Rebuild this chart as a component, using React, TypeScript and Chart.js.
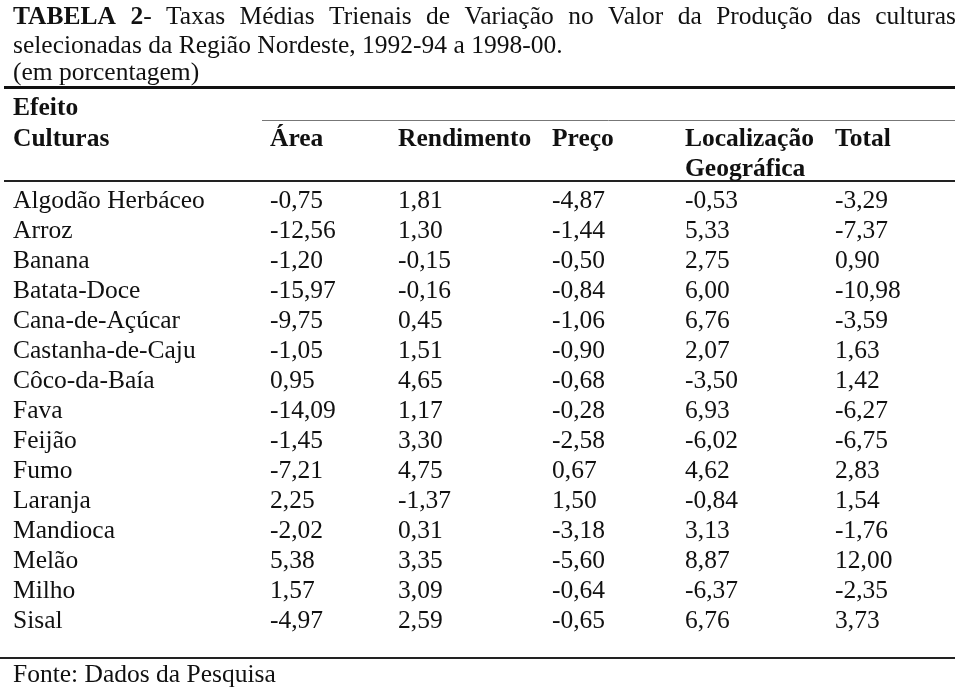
import React, { useEffect, useRef } from "react";
import { Chart, registerables } from "chart.js";

Chart.register(...registerables);

// ---------- text ----------
const TITLE_LINE1 = "TABELA 2- Taxas Médias Trienais de Variação no Valor da Produção das culturas";
const TITLE_LINE2 = "selecionadas da Região Nordeste, 1992-94 a 1998-00.";
const TITLE_LINE3 = "(em porcentagem)";
const GROUP_LABEL = "Efeito";
const ROW_HEADER = "Culturas";
const COLUMNS = ["Área", "Rendimento", "Preço", "Localização", "Total"];
const COLUMN_SUB = ["", "", "", "Geográfica", ""];
const SOURCE = "Fonte: Dados da Pesquisa";

// ---------- data ----------
const CROPS = [
  "Algodão Herbáceo",
  "Arroz",
  "Banana",
  "Batata-Doce",
  "Cana-de-Açúcar",
  "Castanha-de-Caju",
  "Côco-da-Baía",
  "Fava",
  "Feijão",
  "Fumo",
  "Laranja",
  "Mandioca",
  "Melão",
  "Milho",
  "Sisal",
];
const AREA = [-0.75, -12.56, -1.2, -15.97, -9.75, -1.05, 0.95, -14.09, -1.45, -7.21, 2.25, -2.02, 5.38, 1.57, -4.97];
const RENDIMENTO = [1.81, 1.3, -0.15, -0.16, 0.45, 1.51, 4.65, 1.17, 3.3, 4.75, -1.37, 0.31, 3.35, 3.09, 2.59];
const PRECO = [-4.87, -1.44, -0.5, -0.84, -1.06, -0.9, -0.68, -0.28, -2.58, 0.67, 1.5, -3.18, -5.6, -0.64, -0.65];
const LOCALIZACAO = [-0.53, 5.33, 2.75, 6.0, 6.76, 2.07, -3.5, 6.93, -6.02, 4.62, -0.84, 3.13, 8.87, -6.37, 6.76];
const TOTAL = [-3.29, -7.37, 0.9, -10.98, -3.59, 1.63, 1.42, -6.27, -6.75, 2.83, 1.54, -1.76, 12.0, -2.35, 3.73];
const SERIES = [AREA, RENDIMENTO, PRECO, LOCALIZACAO, TOTAL];

// ---------- layout / style ----------
const W = 960;
const H = 691;
const FONT_SIZE = 25.5;
const FAMILY = '"Liberation Serif", "Times New Roman", serif';
const TEXT_COLOR = "#111";
const LEFT_X = 13;
const RIGHT_X = 956;
const COL_X = [270, 398, 552, 685, 835];
const BASELINE_SHIFT = 8;

const font = (bold: boolean) => `${bold ? "bold " : ""}${FONT_SIZE}px ${FAMILY}`;
const fmt = (v: number) => v.toFixed(2).replace(".", ",");

function drawJustifiedTitle(ctx: CanvasRenderingContext2D, text: string, x0: number, x1: number, y: number) {
  const words = text.split(" ");
  // each word -> segments [text, bold]
  const tokens: [string, boolean][][] = words.map((w, i) => {
    if (i === 0) return [[w, true]];
    if (i === 1 && w.endsWith("-")) return [[w.slice(0, -1), true], ["-", false]];
    return [[w, false]];
  });
  const widths = tokens.map((segs) =>
    segs.reduce((s, [t, b]) => {
      ctx.font = font(b);
      return s + ctx.measureText(t).width;
    }, 0)
  );
  const total = widths.reduce((a, b) => a + b, 0);
  const gap = (x1 - x0 - total) / (tokens.length - 1);
  let x = x0;
  tokens.forEach((segs, i) => {
    let sx = x;
    segs.forEach(([t, b]) => {
      ctx.font = font(b);
      ctx.fillText(t, sx, y);
      sx += ctx.measureText(t).width;
    });
    x += widths[i] + gap;
  });
}

function hline(ctx: CanvasRenderingContext2D, x0: number, x1: number, y: number, w: number, color: string) {
  ctx.save();
  ctx.strokeStyle = color;
  ctx.lineWidth = w;
  ctx.beginPath();
  ctx.moveTo(x0, y);
  ctx.lineTo(x1, y);
  ctx.stroke();
  ctx.restore();
}

const tablePlugin = {
  id: "tablePlugin",
  afterDraw(chart: any) {
    const ctx: CanvasRenderingContext2D = chart.ctx;
    const xs = chart.scales.x;
    const ys = chart.scales.y;
    ctx.save();
    ctx.fillStyle = TEXT_COLOR;
    ctx.textBaseline = "alphabetic";
    ctx.textAlign = "left";

    // title
    drawJustifiedTitle(ctx, TITLE_LINE1, LEFT_X, RIGHT_X, 24);
    ctx.font = font(false);
    ctx.fillText(TITLE_LINE2, LEFT_X, 53);
    ctx.fillText(TITLE_LINE3, LEFT_X, 80);

    // rules
    hline(ctx, 4, 955, 87.5, 3, "#111");
    hline(ctx, 262, 955, 120.5, 1, "#777");
    hline(ctx, 4, 955, 181, 2, "#222");
    hline(ctx, 0, 955, 658, 2, "#222");

    // headers
    ctx.font = font(true);
    ctx.fillText(GROUP_LABEL, LEFT_X, 115);
    ctx.fillText(ROW_HEADER, LEFT_X, 146);
    COLUMNS.forEach((c, i) => {
      const x = xs.getPixelForValue(COL_X[i]);
      ctx.fillText(c, x, 146);
      if (COLUMN_SUB[i]) ctx.fillText(COLUMN_SUB[i], x, 176);
    });

    // row labels
    ctx.font = font(false);
    CROPS.forEach((name, i) => {
      ctx.fillText(name, LEFT_X, ys.getPixelForValue(i) + BASELINE_SHIFT);
    });

    // values from dataset elements
    chart.data.datasets.forEach((ds: any, di: number) => {
      const meta = chart.getDatasetMeta(di);
      meta.data.forEach((el: any, i: number) => {
        ctx.fillText(fmt(SERIES[di][i]), el.x, el.y + BASELINE_SHIFT);
      });
    });

    // source
    ctx.fillText(SOURCE, LEFT_X, 682);
    ctx.restore();
  },
};

const bgPlugin = {
  id: "bgPlugin",
  beforeDraw(chart: any) {
    const ctx = chart.ctx;
    ctx.save();
    ctx.fillStyle = "#fff";
    ctx.fillRect(0, 0, chart.width, chart.height);
    ctx.restore();
  },
};

export default function App() {
  const ref = useRef<HTMLCanvasElement | null>(null);
  useEffect(() => {
    if (!ref.current) return;
    const chart = new Chart(ref.current, {
      type: "scatter",
      data: {
        datasets: COLUMNS.map((c, ci) => ({
          label: c,
          data: CROPS.map((crop, i) => ({ x: COL_X[ci], y: crop, v: SERIES[ci][i] })) as any,
          pointRadius: 0,
          pointHoverRadius: 0,
        })),
      },
      options: {
        responsive: false,
        animation: false,
        devicePixelRatio: 1,
        events: [],
        layout: { padding: { top: 185, bottom: 56, left: 0, right: 0 } },
        plugins: { legend: { display: false }, tooltip: { enabled: false } },
        scales: {
          x: { type: "linear", min: 0, max: W, display: false },
          y: { type: "category", labels: CROPS, offset: true, display: false },
        },
      },
      plugins: [bgPlugin, tablePlugin],
    });
    return () => chart.destroy();
  }, []);
  return (
    <div style={{ position: "absolute", left: 0, top: 0, width: W, height: H, background: "#fff" }}>
      <canvas ref={ref} width={W} height={H} style={{ display: "block" }} />
    </div>
  );
}
